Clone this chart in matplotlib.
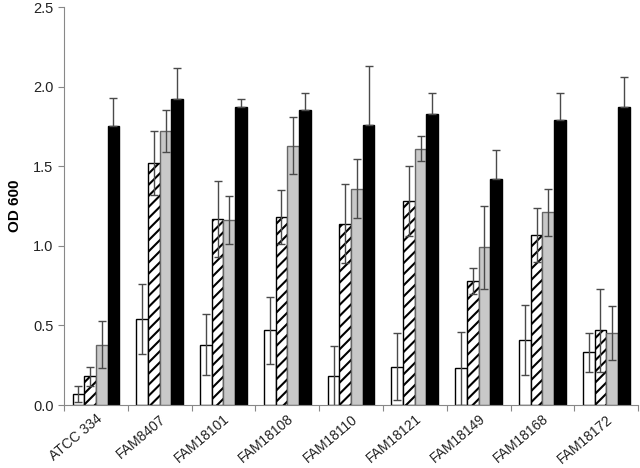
import matplotlib
matplotlib.use("Agg")
import matplotlib.pyplot as plt
import numpy as np

plt.rcParams['font.family'] = ['Liberation Sans', 'DejaVu Sans']
plt.rcParams['hatch.color'] = '#444444'
plt.rcParams['hatch.linewidth'] = 1.5

strains = ['ATCC 334', 'FAM8407', 'FAM18101', 'FAM18108', 'FAM18110',
           'FAM18121', 'FAM18149', 'FAM18168', 'FAM18172']

# four conditions per strain: white, hatched, grey, black
white = [0.07, 0.54, 0.38, 0.47, 0.18, 0.24, 0.23, 0.41, 0.33]
white_err = [0.05, 0.22, 0.19, 0.21, 0.19, 0.21, 0.23, 0.22, 0.12]
hatched = [0.18, 1.52, 1.17, 1.18, 1.14, 1.28, 0.78, 1.07, 0.47]
hatched_err = [0.06, 0.20, 0.24, 0.17, 0.25, 0.22, 0.08, 0.17, 0.26]
grey = [0.38, 1.72, 1.16, 1.63, 1.36, 1.61, 0.99, 1.21, 0.45]
grey_err = [0.145, 0.13, 0.15, 0.18, 0.185, 0.08, 0.26, 0.15, 0.17]
black = [1.75, 1.92, 1.87, 1.85, 1.76, 1.83, 1.42, 1.79, 1.87]
black_err = [0.18, 0.20, 0.055, 0.11, 0.37, 0.13, 0.18, 0.17, 0.19]

x = np.arange(len(strains))
w = 0.183

fig = plt.figure(figsize=(6.4, 4.68), dpi=100)
ax = fig.add_axes([0.1, 0.1346, 0.897, 0.8504])

ekw = dict(ecolor='#4a4a4a', elinewidth=1, capsize=3, capthick=1)
ax.bar(x - 1.5 * w, white, w, yerr=white_err, color='white', edgecolor='black', linewidth=1, error_kw=ekw)
ax.bar(x - 0.5 * w, hatched, w, yerr=hatched_err, color='white', edgecolor='black', linewidth=1,
       hatch='///', error_kw=ekw)
ax.bar(x + 0.5 * w, grey, w, yerr=grey_err, color='#c8c8c8', edgecolor='#666666', linewidth=1, error_kw=ekw)
# lower half of the black bars' error bars is hidden in the black
ax.bar(x + 1.5 * w, black, w, yerr=[np.zeros(len(black)), black_err], color='black', edgecolor='black',
       linewidth=1, error_kw=ekw)

ax.set_xlim(-0.5, len(strains) - 0.5)
ax.set_ylim(0, 2.5)
ax.set_yticks(np.arange(0, 2.51, 0.5))
ax.set_yticklabels(['%.1f' % v for v in np.arange(0, 2.51, 0.5)], fontsize=10.5, color='#222222')

ax.set_xticks(np.arange(-0.5, len(strains)), labels=[''] * (len(strains) + 1))
ax.set_xticks(x, minor=True)
ax.set_xticklabels(strains, minor=True, rotation=40, ha='right', rotation_mode='anchor',
                   fontsize=10, color='#222222')
ax.tick_params(axis='x', which='major', length=4, color='#888888')
ax.tick_params(axis='x', which='minor', length=0, pad=5)
ax.tick_params(axis='y', length=4, color='#888888')

for s in ['top', 'right']:
    ax.spines[s].set_visible(False)
for s in ['left', 'bottom']:
    ax.spines[s].set_color('#888888')

ax.set_ylabel('OD 600', fontsize=11, fontweight='bold', labelpad=8)

fig.savefig('out.png', dpi=100)
